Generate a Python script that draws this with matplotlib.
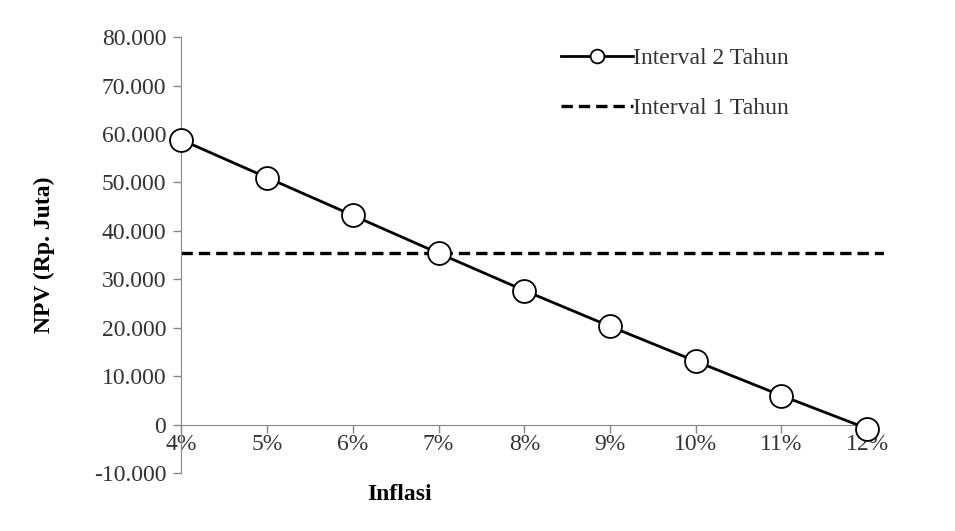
"""
NPV vs inflation - interval 2 tahun vs interval 1 tahun
"""

import matplotlib
matplotlib.use("Agg")
import matplotlib.pyplot as plt
from matplotlib.ticker import FuncFormatter, MultipleLocator


# ==========================================================
# DATA
# ==========================================================

inflasi = [4, 5, 6, 7, 8, 9, 10, 11, 12]
inflasi_labels = ["4%", "5%", "6%", "7%", "8%", "9%", "10%", "11%", "12%"]
npv_2_tahun = [58800, 51000, 43200, 35400, 27700, 20300, 13100, 6000, -800]
npv_1_tahun = 35400


# ==========================================================
# PLOT
# ==========================================================

plt.rcParams["font.family"] = ["Liberation Serif", "DejaVu Serif"]

fig = plt.figure(figsize=(9.55, 5.31), dpi=100)
ax = fig.add_axes([0.19, 0.109, 0.736, 0.821])

gray = "#868686"
txt = "#333333"
fs = 17

ax.plot(inflasi, npv_2_tahun, color="black", lw=2.0,
        marker="o", ms=16.5, mfc="white", mec="black", mew=1.3,
        label="Interval 2 Tahun", zorder=3, clip_on=False)
ax.axhline(npv_1_tahun, color="black", lw=2.4, ls=(0, (3.4, 1.8)),
           label="Interval 1 Tahun", zorder=2)

ax.set_xlim(4, 12.2)
ax.set_ylim(-10000, 80000)

# spines
for s in ["top", "right"]:
    ax.spines[s].set_visible(False)
ax.spines["left"].set_color(gray)
ax.spines["bottom"].set_color(gray)
ax.spines["bottom"].set_position(("data", 0))
ax.spines["bottom"].set_bounds(4, 12)

# ticks
ax.set_xticks(inflasi)
ax.set_xticklabels(inflasi_labels)
ax.yaxis.set_major_locator(MultipleLocator(10000))
ax.yaxis.set_major_formatter(
    FuncFormatter(lambda v, p: f"{v:,.0f}".replace(",", "."))
)
ax.tick_params(axis="both", colors=gray, labelcolor=txt,
               labelsize=fs, length=6, width=1, direction="out")
ax.tick_params(axis="x", pad=1)
ax.tick_params(axis="y", pad=5)

# axis labels
ax.set_xlabel("Inflasi", fontsize=fs, fontweight="bold", color="black")
ax.xaxis.set_label_coords(0.31, -0.025)
ax.set_ylabel("NPV (Rp. Juta)", fontsize=fs, fontweight="bold", color="black")
ax.yaxis.set_label_coords(-0.18, 0.5)

# legend
leg = ax.legend(loc="upper left", bbox_to_anchor=(0.51, 1.025),
                frameon=False, fontsize=fs, handlelength=3.05,
                handletextpad=0.0, labelspacing=1.2, markerscale=0.6)
for t in leg.get_texts():
    t.set_color(txt)

fig.savefig("out.png", dpi=100)
